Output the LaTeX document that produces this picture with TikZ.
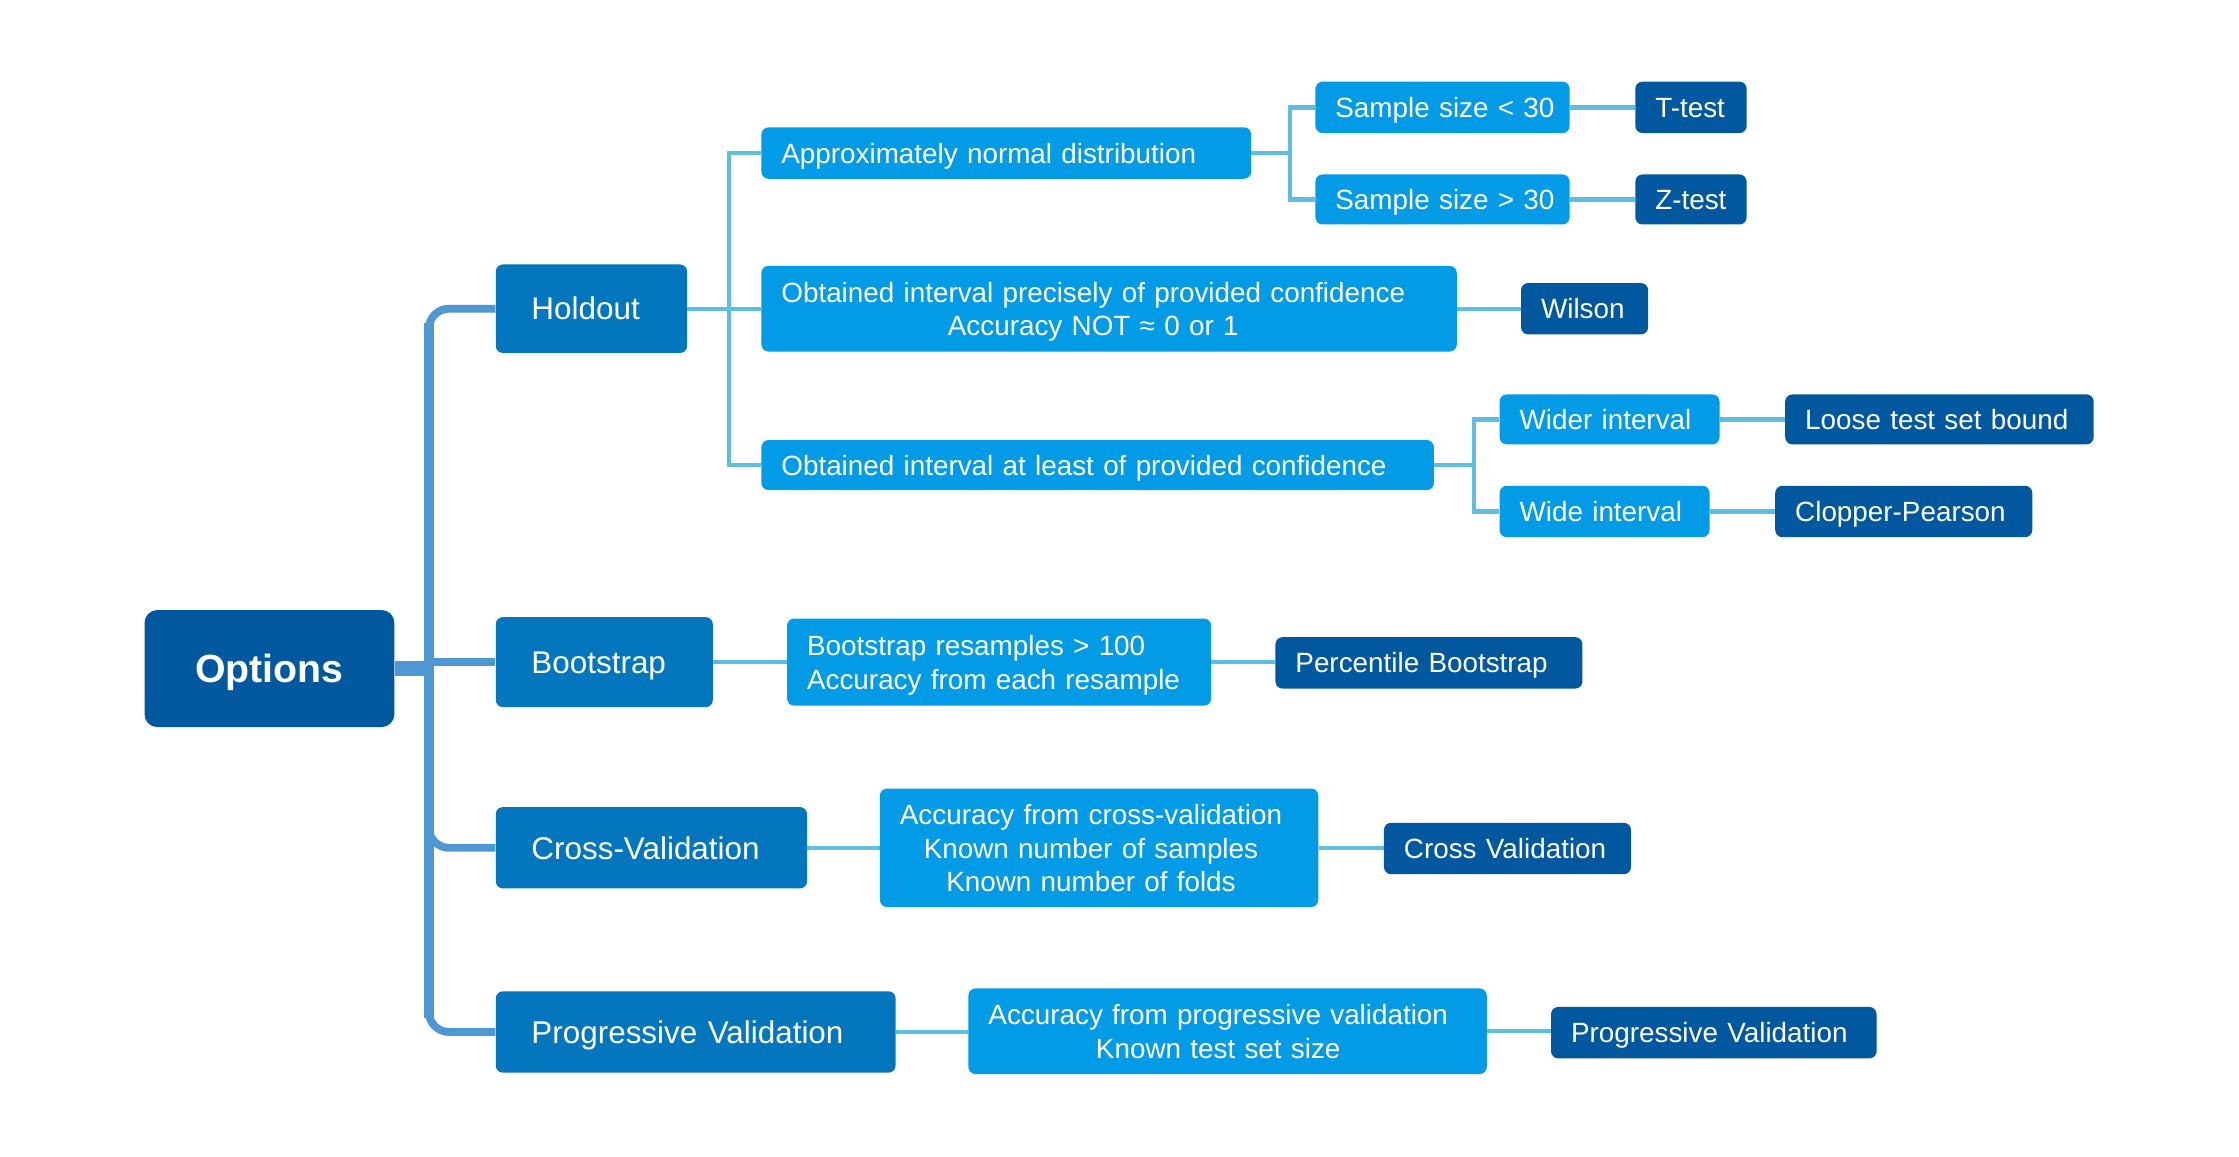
\documentclass[tikz,border=0pt]{standalone}
\usepackage{fontspec}
\setmainfont{Liberation Sans}
\definecolor{cdark}{HTML}{02589E}
\definecolor{cmid}{HTML}{0476BD}
\definecolor{clight}{HTML}{039BE5}
\definecolor{ctrunk}{HTML}{4F97D2}
\definecolor{ccon}{HTML}{5FBDE2}
\newcommand{\tx}[1]{\raisebox{-2.5pt}[\height][\depth]{#1}}
\newcommand{\one}[1]{\raisebox{0pt}[0.716em][0pt]{#1}}
\begin{document}
\begin{tikzpicture}[x=1pt,y=-1pt,
  box/.style={rounded corners=5pt, text=white, inner ysep=0pt, anchor=north west, align=left},
  rootbox/.style={box, fill=cdark, rounded corners=9pt, font=\bfseries\fontsize{27.5}{33}\selectfont, align=center, inner xsep=0pt},
  lone/.style={box, fill=cmid, inner xsep=25pt, font=\fontsize{22}{26}\selectfont},
  ltwo/.style={box, fill=clight, inner xsep=14pt, font=\fontsize{19.5}{23.5}\selectfont},
  leaf/.style={box, fill=cdark, inner xsep=14pt, font=\fontsize{19.5}{23.5}\selectfont},
  trunk/.style={draw=ctrunk, line width=5.5pt, rounded corners=14pt},
  con/.style={draw=ccon, line width=3pt},
]
\useasboundingbox[fill=white] (0,0) rectangle (1568,810);

% root
\node[rootbox, minimum width=175pt, minimum height=82pt] (root) at (101,427) {\one{Options}};

% level 1
\node[lone, text width=84pt, minimum height=62pt] (hold) at (347,185) {\one{Holdout}};
\node[lone, text width=102pt, minimum height=63pt] (boot) at (347,432) {\one{Bootstrap}};
\node[lone, text width=168pt, minimum height=57pt] (cross) at (347,565) {\one{Cross-Validation}};
\node[lone, text width=230pt, minimum height=57pt] (prog) at (347,694) {\one{Progressive Validation}};

% level 2
\node[ltwo, text width=315pt, minimum height=36pt] (norm) at (533,89) {\one{Approximately normal distribution}};
\node[ltwo, text width=459pt, minimum height=60pt] (prec) at (533,186) {\tx{\begin{tabular}{@{}c@{}}Obtained interval precisely of provided confidence\\Accuracy NOT ≈ 0 or 1\end{tabular}}};
\node[ltwo, text width=443pt, minimum height=35pt] (least) at (533,308) {\one{Obtained interval at least of provided confidence}};
\node[ltwo, text width=269pt, minimum height=61pt] (bres) at (551,433) {\tx{\begin{tabular}{@{}l@{}}Bootstrap resamples > 100\\Accuracy from each resample\end{tabular}}};
\node[ltwo, text width=279pt, minimum height=83pt] (ccv) at (616,552) {\tx{\begin{tabular}{@{}c@{}}Accuracy from cross-validation\\Known number of samples\\Known number of folds\end{tabular}}};
\node[ltwo, text width=335pt, minimum height=60pt] (pv) at (678,692) {\tx{\begin{tabular}{@{}c@{}}Accuracy from progressive validation\\Known test set size\end{tabular}}};

% level 3
\node[ltwo, text width=150pt, minimum height=36pt] (sa) at (921,57) {\one{Sample size < 30}};
\node[ltwo, text width=150pt, minimum height=35pt] (sb) at (921,122) {\one{Sample size > 30}};
\node[ltwo, text width=126pt, minimum height=35pt] (wider) at (1050,276) {\one{Wider interval}};
\node[ltwo, text width=119pt, minimum height=36pt] (wide) at (1050,340) {\one{Wide interval}};

% leaves
\node[leaf, text width=50pt, minimum height=36pt] (ttest) at (1145,57) {\one{T-test}};
\node[leaf, text width=50pt, minimum height=35pt] (ztest) at (1145,122) {\one{Z-test}};
\node[leaf, text width=61pt, minimum height=36pt] (wilson) at (1065,198) {\one{Wilson}};
\node[leaf, text width=188pt, minimum height=35pt] (loose) at (1250,276) {\one{Loose test set bound}};
\node[leaf, text width=152pt, minimum height=36pt] (clopper) at (1243,340) {\one{Clopper-Pearson}};
\node[leaf, text width=187pt, minimum height=36pt] (pboot) at (893,446) {\one{Percentile Bootstrap}};
\node[leaf, text width=145pt, minimum height=36pt] (cv) at (969,576) {\one{Cross Validation}};
\node[leaf, text width=200pt, minimum height=36pt] (pvl) at (1086,705) {\one{Progressive Validation}};

% main trunk
\coordinate (tj) at ([xshift=24pt]root.east);
\coordinate (ttop) at (tj |- hold.west);
\coordinate (tbot) at (tj |- prog.west);
\draw[ctrunk, line width=10pt] (root.east) -- (tj);
\draw[ctrunk, line width=7pt] ([yshift=-10pt]ttop) -- ([yshift=10pt]tbot);
\draw[trunk] (tj) |- (hold.west);
\draw[trunk] (tj |- boot.west) -- (boot.west);
\draw[trunk] (tj) |- (cross.west);
\draw[trunk] (tj) |- (prog.west);

% holdout bracket
\coordinate (hb) at ([xshift=29pt]hold.east);
\draw[con] (hold.east) -- (hold.east -| prec.west);
\draw[con] (norm.west) -| (hb);
\draw[con] (least.west) -| (hb);

% normal bracket
\coordinate (nb) at ([xshift=27pt]norm.east);
\draw[con] (norm.east) -- (nb);
\draw[con] (sa.west) -| (nb);
\draw[con] (sb.west) -| (nb);
\draw[con] (sa.east) -- (sa.east -| ttest.west);
\draw[con] (sb.east) -- (sb.east -| ztest.west);

\draw[con] (prec.east) -- (prec.east -| wilson.west);

% at least bracket
\coordinate (lb) at ([xshift=28pt]least.east);
\draw[con] (least.east) -- (lb);
\draw[con] (wider.west) -| (lb);
\draw[con] (wide.west) -| (lb);
\draw[con] (wider.east) -- (wider.east -| loose.west);
\draw[con] (wide.east) -- (wide.east -| clopper.west);

% other rows
\draw[con] (boot.east) -- (boot.east -| bres.west);
\draw[con] (bres.east) -- (bres.east -| pboot.west);
\draw[con] (cross.east) -- (cross.east -| ccv.west);
\draw[con] (ccv.east) -- (ccv.east -| cv.west);
\draw[con] (prog.east) -- (prog.east -| pv.west);
\draw[con] (pv.east) -- (pv.east -| pvl.west);
\end{tikzpicture}
\end{document}
